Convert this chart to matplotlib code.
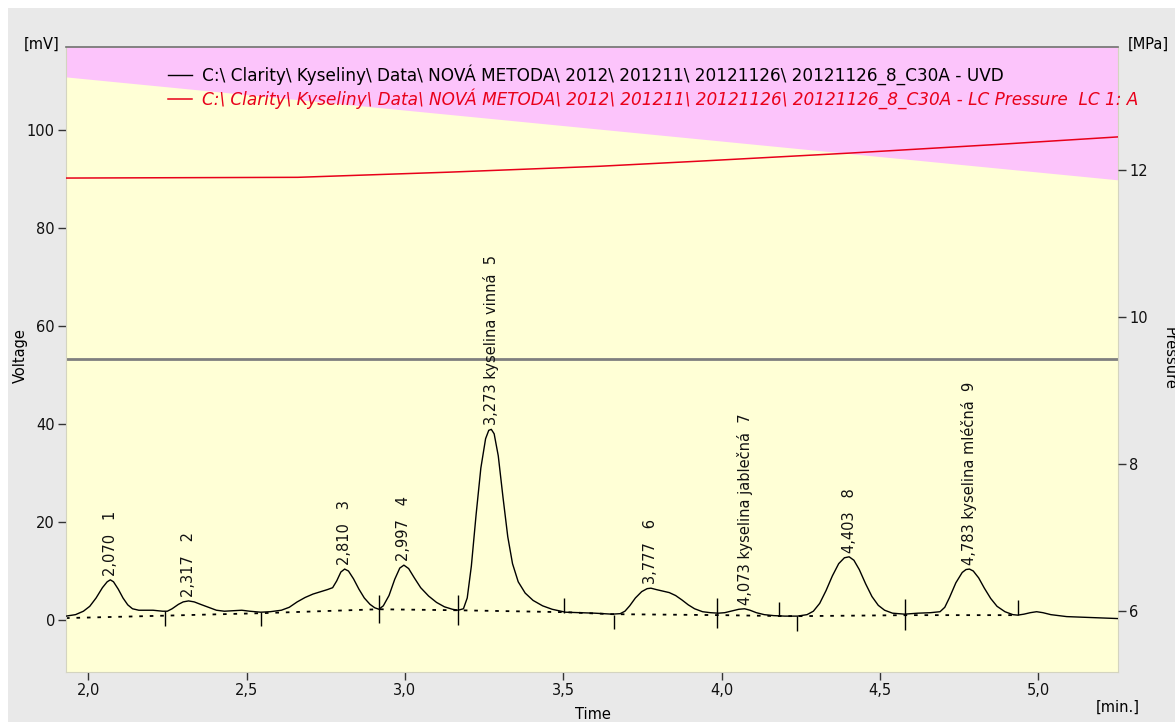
import matplotlib
matplotlib.use("Agg")
import matplotlib.pyplot as plt
from matplotlib.patches import Rectangle
from matplotlib.ticker import FuncFormatter, FixedLocator

# ---------------- data ----------------
uvd_time = [1.930, 1.960, 1.985, 2.005, 2.025, 2.045, 2.060, 2.070, 2.080, 2.095,
            2.110, 2.125, 2.140, 2.160, 2.205, 2.235, 2.250, 2.265, 2.285, 2.300,
            2.317, 2.335, 2.355, 2.380, 2.405, 2.430, 2.460, 2.485, 2.510, 2.545,
            2.575, 2.610, 2.635, 2.660, 2.685, 2.710, 2.735, 2.755, 2.772, 2.785,
            2.798, 2.810, 2.822, 2.838, 2.855, 2.872, 2.890, 2.905, 2.918, 2.932,
            2.950, 2.968, 2.984, 2.997, 3.012, 3.030, 3.050, 3.075, 3.100, 3.125,
            3.150, 3.168, 3.185, 3.197, 3.210, 3.225, 3.240, 3.255, 3.265, 3.273,
            3.282, 3.295, 3.310, 3.325, 3.340, 3.358, 3.380, 3.405, 3.435, 3.465,
            3.507, 3.550, 3.600, 3.654, 3.680, 3.695, 3.710, 3.728, 3.748, 3.765,
            3.777, 3.795, 3.815, 3.835, 3.855, 3.875, 3.895, 3.915, 3.940, 3.965,
            3.990, 4.010, 4.035, 4.055, 4.073, 4.090, 4.110, 4.135, 4.165, 4.200,
            4.240, 4.270, 4.290, 4.310, 4.330, 4.350, 4.370, 4.388, 4.403, 4.418,
            4.435, 4.455, 4.475, 4.495, 4.515, 4.540, 4.578, 4.620, 4.660, 4.690,
            4.705, 4.720, 4.740, 4.760, 4.772, 4.783, 4.795, 4.812, 4.830, 4.850,
            4.870, 4.895, 4.920, 4.935, 4.955, 4.975, 4.995, 5.015, 5.040, 5.090,
            5.175, 5.252]
uvd_mv = [0.8, 1.1, 1.8, 2.8, 4.5, 6.6, 7.8, 8.2, 7.8, 6.3,
          4.5, 3.1, 2.3, 2.0, 2.0, 1.8, 1.8, 2.3, 3.2, 3.7,
          3.9, 3.7, 3.2, 2.6, 2.0, 1.8, 1.9, 2.0, 1.8, 1.6,
          1.7, 2.0, 2.6, 3.7, 4.6, 5.3, 5.8, 6.2, 6.6, 8.0,
          9.8, 10.4, 10.0, 8.4, 6.3, 4.5, 3.2, 2.5, 2.2, 2.9,
          5.0, 8.3, 10.6, 11.2, 10.5, 8.6, 6.6, 4.9, 3.6, 2.7,
          2.2, 2.0, 2.3, 4.5, 11.0, 21.5, 31.0, 37.0, 38.7, 38.9,
          38.0, 33.5, 25.0, 17.0, 11.5, 7.8, 5.5, 4.0, 2.9, 2.2,
          1.6, 1.5, 1.4, 1.2, 1.3, 1.8, 2.9, 4.5, 5.8, 6.4,
          6.5, 6.2, 5.9, 5.6, 5.0, 4.1, 3.1, 2.3, 1.7, 1.5,
          1.4, 1.5, 1.9, 2.2, 2.3, 2.0, 1.5, 1.1, 0.9, 0.8,
          0.8, 1.1, 1.8, 3.4, 6.0, 9.0, 11.5, 12.7, 12.9, 12.2,
          10.3, 7.4, 4.8, 3.0, 2.0, 1.4, 1.2, 1.4, 1.5, 1.7,
          2.6, 4.6, 7.6, 9.7, 10.3, 10.4, 10.0, 8.6, 6.5, 4.4,
          2.8, 1.7, 1.1, 1.0, 1.2, 1.5, 1.7, 1.5, 1.1, 0.7,
          0.5, 0.3]

baseline_time = [1.930, 2.247, 2.548, 2.918, 3.163, 3.507, 3.654, 4.000, 4.200, 4.250, 4.590, 4.935]
baseline_mv = [0.4, 0.9, 1.4, 2.2, 2.0, 1.6, 1.2, 1.0, 0.8, 0.8, 1.0, 1.0]

marker_time = [2.244, 2.546, 2.918, 3.167, 3.504, 3.661, 3.987, 4.183, 4.238, 4.578, 4.935]
marker_low = [-1.2, -1.2, -0.7, -1.0, 1.5, -1.9, -1.7, 0.8, -2.2, -2.0, 1.0]
marker_high = [1.8, 1.7, 5.1, 5.1, 4.4, 1.0, 4.4, 3.7, 0.8, 4.2, 4.1]

peak_time = [2.070, 2.317, 2.810, 2.997, 3.273, 3.777, 4.073, 4.403, 4.783]
peak_height = [8.2, 3.9, 10.4, 11.2, 38.9, 6.5, 2.3, 12.9, 10.4]
peak_name = ["", "", "", "", "kyselina vinná", "", "kyselina jablečná", "", "kyselina mléčná"]
peak_number = ["1", "2", "3", "4", "5", "6", "7", "8", "9"]

pressure_time = [1.930, 2.662, 3.138, 3.613, 3.930, 4.406, 4.881, 5.252]
pressure_mpa = [11.89, 11.90, 11.97, 12.05, 12.12, 12.23, 12.35, 12.45]

gradient_time = [1.930, 5.252]
gradient_level = [110.8, 89.8]

marker_level = 53.3

x_ticks = [2.0, 2.5, 3.0, 3.5, 4.0, 4.5, 5.0]
y_ticks = [0, 20, 40, 60, 80, 100]
p_ticks = [6, 8, 10, 12]

legend_uvd = "C:\\ Clarity\\ Kyseliny\\ Data\\ NOVÁ METODA\\ 2012\\ 201211\\ 20121126\\ 20121126_8_C30A - UVD"
legend_p = "C:\\ Clarity\\ Kyseliny\\ Data\\ NOVÁ METODA\\ 2012\\ 201211\\ 20121126\\ 20121126_8_C30A - LC Pressure  LC 1: A"

# ---------------- figure ----------------
W, H = 1175, 722
fig = plt.figure(figsize=(W / 100, H / 100), dpi=100, facecolor="#e9e9e9")
fig.patches.append(Rectangle((0, 1 - 8 / H), 1, 8 / H, transform=fig.transFigure,
                             facecolor="white", edgecolor="none", zorder=0))
fig.patches.append(Rectangle((0, 0), 8 / W, 1, transform=fig.transFigure,
                             facecolor="white", edgecolor="none", zorder=0))

L, R, T, B = 66, 1118, 47, 672
ax = fig.add_axes([L / W, (H - B) / H, (R - L) / W, (B - T) / H])
YMIN, YMAX = -10.6, 116.9
XMIN, XMAX = 1.930, 5.252
ax.set_xlim(XMIN, XMAX)
ax.set_ylim(YMIN, YMAX)
ax.set_facecolor("#ffffd6")

# gradient background (pink above the line)
ax.fill_between(gradient_time, gradient_level, YMAX, color="#fcc4fb", lw=0, zorder=0)

# marker line
ax.axhline(marker_level, color="#7f7f7f", lw=2, zorder=1)

# baseline and chromatogram
ax.plot(baseline_time, baseline_mv, color="black", lw=1.3, dashes=(2.0, 3.8), zorder=2)
uvd_line, = ax.plot(uvd_time, uvd_mv, color="black", lw=1.0, zorder=3,
                    solid_joinstyle="round")
ax.vlines(marker_time, marker_low, marker_high, color="black", lw=1.0, zorder=3)

# peak labels
for t, h, name, num in zip(peak_time, peak_height, peak_name, peak_number):
    tstr = f"{t:.3f}".replace(".", ",")
    txt = f"{tstr} {name}  {num}" if name else f"{tstr}   {num}"
    ax.annotate(txt, xy=(t, h), xytext=(0, 3), textcoords="offset points",
                rotation=90, ha="center", va="bottom", fontsize=10.5, color="#111111",
                family="DejaVu Sans", zorder=4)

# axes styling
ax.xaxis.set_major_locator(FixedLocator(x_ticks))
ax.xaxis.set_major_formatter(FuncFormatter(lambda v, p: f"{v:.1f}".replace(".", ",")))
ax.yaxis.set_major_locator(FixedLocator(y_ticks))
ax.tick_params(axis="both", labelsize=10.5, length=6, width=1, color="#333333",
               labelcolor="#111111", direction="out", pad=2)
for s in ["left", "right", "bottom"]:
    ax.spines[s].set_color("#d4d4c0")
    ax.spines[s].set_linewidth(0.8)
ax.spines["top"].set_color("#707070")
ax.spines["top"].set_linewidth(1.2)

ax.set_ylabel("Voltage", fontsize=10.5)
ax.yaxis.set_label_coords(-0.036, 0.507)
ax.set_xlabel("Time", fontsize=10.5)
ax.xaxis.set_label_coords(0.501, -0.056)

# pressure axis
ax2 = ax.twinx()
ax2.set_ylim(5.170, 13.673)
press_line, = ax2.plot(pressure_time, pressure_mpa, color="#e8001a", lw=1.1, zorder=3)
ax2.yaxis.set_major_locator(FixedLocator(p_ticks))
ax2.tick_params(axis="y", labelsize=10.5, length=6, width=1, color="#333333",
                labelcolor="#111111", direction="out", pad=2)
for s in ax2.spines.values():
    s.set_visible(False)

leg = ax2.legend([uvd_line, press_line], [legend_uvd, legend_p],
                 loc="upper left", bbox_to_anchor=((168 - L) / (R - L), 1 - (64 - T) / (B - T)),
                 frameon=False, borderpad=0, borderaxespad=0, handlelength=1.4,
                 handletextpad=0.6, labelspacing=0.2,
                 prop={"family": "DejaVu Sans", "size": 12.2})
leg.get_texts()[1].set_color("#e8001a")
leg.get_texts()[1].set_style("italic")
leg.set_zorder(10)

# unit captions
fig.text(42 / W, 1 - 44 / H, "[mV]", ha="center", va="center", fontsize=10.5)
fig.text(1148 / W, 1 - 44 / H, "[MPa]", ha="center", va="center", fontsize=10.5)
fig.text(1118 / W, 1 - 707 / H, "[min.]", ha="center", va="center", fontsize=10.5)
fig.text(1162 / W, 1 - 358 / H, "Pressure", rotation=270, ha="left", va="center", fontsize=10.5)

fig.savefig("out.png", dpi=100, facecolor=fig.get_facecolor())
